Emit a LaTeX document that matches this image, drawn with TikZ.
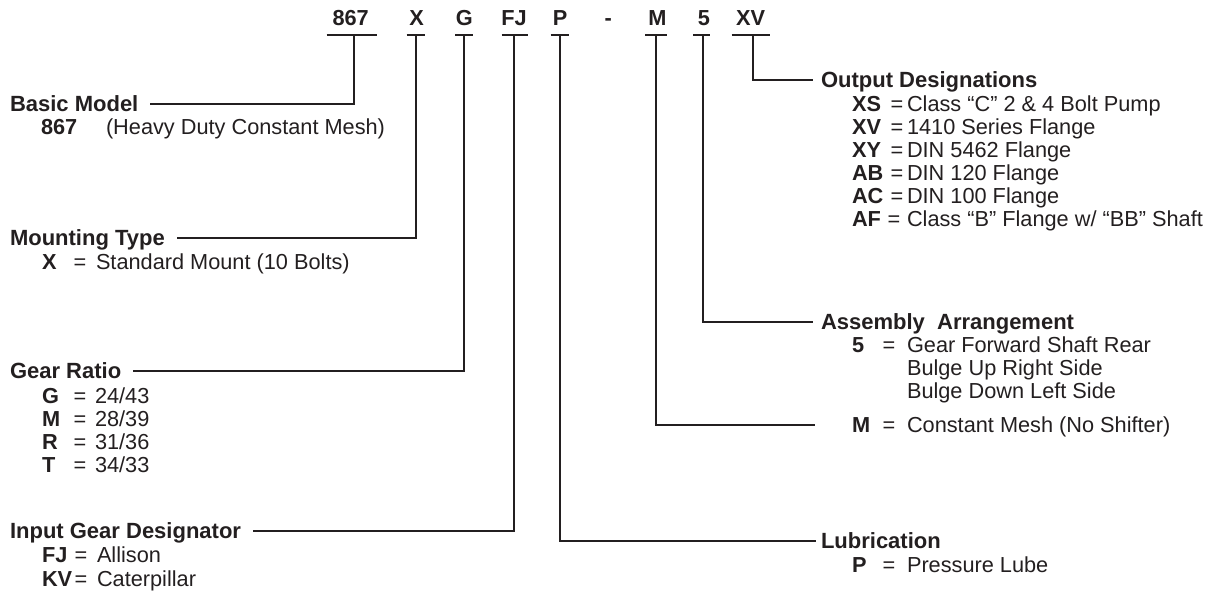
\documentclass[tikz,border=0pt]{standalone}
\usepackage{fontspec}
\setmainfont{Liberation Sans}
\definecolor{ink}{RGB}{35,31,32}
\begin{document}
\begin{tikzpicture}[x=0.75pt,y=-0.75pt,
  every node/.style={inner sep=0pt,outer sep=0pt,text=ink,font=\fontsize{16.3}{19}\selectfont},
  codetxt/.style={anchor=base,font=\fontsize{16.3}{19}\selectfont\bfseries},
  hdr/.style={anchor=base west,font=\fontsize{16.5}{19}\selectfont\bfseries},
  keytxt/.style={anchor=base west,font=\fontsize{16.3}{19}\selectfont\bfseries},
  valtxt/.style={anchor=base west},
  eqtxt/.style={anchor=base},
  conn/.style={draw=ink,line width=1.45pt},
  uline/.style={draw=ink,line width=1.45pt}]
\useasboundingbox (0,0) rectangle (1217,596);

% ---- top code ----
\node[codetxt] (c867) at (350.7,26) {867};
\node[codetxt] (cX) at (416.7,26) {X};
\node[codetxt] (cG) at (464.3,26) {G};
\node[codetxt] (cFJ) at (514,26) {FJ};
\node[codetxt] (cP) at (560,26) {P};
\node[codetxt] (cdash) at (608.3,26) {-};
\node[codetxt] (cM) at (657.3,26) {M};
\node[codetxt] (c5) at (704,26) {5};
\node[codetxt] (cXV) at (750.7,26) {XV};

\draw[uline] (326.7,35) -- (376.7,35);
\draw[uline] (406.7,35) -- (425,35);
\draw[uline] (455,35) -- (473.3,35);
\draw[uline] (501.7,35) -- (528.3,35);
\draw[uline] (550.7,35) -- (569.3,35);
\draw[uline] (645,35) -- (666.7,35);
\draw[uline] (693.3,35) -- (710,35);
\draw[uline] (731.7,35) -- (770,35);

\coordinate (t867) at (354.3,35);
\coordinate (tX) at (416.3,35);
\coordinate (tG) at (464.3,35);
\coordinate (tFJ) at (514.3,35);
\coordinate (tP) at (560,35);
\coordinate (tM) at (656,35);
\coordinate (t5) at (703,35);
\coordinate (tXV) at (753,35);

% ---- left column ----
\node[hdr] (hBasic) at (10,111) {Basic Model};
\node[keytxt] (k867) at (41,134) {867};
\node[valtxt] (v867) at (106,134) {(Heavy Duty Constant Mesh)};

\node[hdr] (hMount) at (10,245.5) {Mounting Type};
\node[keytxt] (kX) at (42,269.5) {X};
\node[eqtxt] (qX) at (80,269.5) {=};
\node[valtxt] (vX) at (96,269.5) {Standard Mount (10 Bolts)};

\node[hdr] (hGear) at (10,378.5) {Gear Ratio};
\node[keytxt] (kG) at (42,403.5) {G};
\node[eqtxt] (qG) at (80,403.5) {=};
\node[valtxt] (vG) at (95,403.5) {24/43};
\node[keytxt] (kM) at (42,426.5) {M};
\node[eqtxt] (qM) at (80,426.5) {=};
\node[valtxt] (vM) at (95,426.5) {28/39};
\node[keytxt] (kR) at (42,449.5) {R};
\node[eqtxt] (qR) at (80,449.5) {=};
\node[valtxt] (vR) at (95,449.5) {31/36};
\node[keytxt] (kT) at (42,472.5) {T};
\node[eqtxt] (qT) at (80,472.5) {=};
\node[valtxt] (vT) at (95,472.5) {34/33};

\node[hdr] (hInput) at (10,538.5) {Input Gear Designator};
\node[keytxt] (kFJ) at (42,562.5) {FJ};
\node[eqtxt] (qFJ) at (81,562.5) {=};
\node[valtxt] (vFJ) at (97,562.5) {Allison};
\node[keytxt] (kKV) at (42,586.5) {KV};
\node[eqtxt] (qKV) at (81,586.5) {=};
\node[valtxt] (vKV) at (97,586.5) {Caterpillar};

% ---- right column ----
\node[hdr] (hOut) at (821,87.5) {Output Designations};
\node[keytxt] (kXS) at (852,111.5) {XS};
\node[eqtxt] (qXS) at (897,111.5) {=};
\node[valtxt] (vXS) at (907,111.5) {Class “C” 2 \& 4 Bolt Pump};
\node[keytxt] (kXV) at (852,134.5) {XV};
\node[eqtxt] (qXV) at (897,134.5) {=};
\node[valtxt] (vXV) at (907,134.5) {1410 Series Flange};
\node[keytxt] (kXY) at (852,157.5) {XY};
\node[eqtxt] (qXY) at (897,157.5) {=};
\node[valtxt] (vXY) at (907,157.5) {DIN 5462 Flange};
\node[keytxt] (kAB) at (852,180.5) {AB};
\node[eqtxt] (qAB) at (897,180.5) {=};
\node[valtxt] (vAB) at (907,180.5) {DIN 120 Flange};
\node[keytxt] (kAC) at (852,203.5) {AC};
\node[eqtxt] (qAC) at (897,203.5) {=};
\node[valtxt] (vAC) at (907,203.5) {DIN 100 Flange};
\node[keytxt] (kAF) at (852,226.5) {AF};
\node[eqtxt] (qAF) at (894,226.5) {=};
\node[valtxt] (vAF) at (907,226.5) {Class “B” Flange w/ “BB” Shaft};

\node[hdr] (hAsm) at (821,329.5) {Assembly\ \ Arrangement};
\node[keytxt] (k5) at (852,352.5) {5};
\node[eqtxt] (q5) at (889,352.5) {=};
\node[valtxt] (v5a) at (907,352.5) {Gear Forward Shaft Rear};
\node[valtxt] (v5b) at (907,375.5) {Bulge Up Right Side};
\node[valtxt] (v5c) at (907,398.5) {Bulge Down Left Side};

\node[keytxt] (kMr) at (852,432.5) {M};
\node[eqtxt] (qMr) at (889,432.5) {=};
\node[valtxt] (vMr) at (907,432.5) {Constant Mesh (No Shifter)};

\node[hdr] (hLub) at (821,548.5) {Lubrication};
\node[keytxt] (kP) at (852,572.5) {P};
\node[eqtxt] (qP) at (889,572.5) {=};
\node[valtxt] (vP) at (907,572.5) {Pressure Lube};

% ---- connector ends ----
\coordinate (eBasic) at ([xshift=9pt,yshift=5.6pt]hBasic.base east);
\coordinate (eMount) at ([xshift=9pt,yshift=5.6pt]hMount.base east);
\coordinate (eGear) at ([xshift=9pt,yshift=5.6pt]hGear.base east);
\coordinate (eInput) at ([xshift=9pt,yshift=5.6pt]hInput.base east);
\coordinate (eOut) at ([xshift=-6pt,yshift=5.6pt]hOut.base west);
\coordinate (eAsm) at ([xshift=-6pt,yshift=5.6pt]hAsm.base west);
\coordinate (eMr) at ([xshift=-27.75pt,yshift=5.6pt]kMr.base west);
\coordinate (eLub) at ([xshift=-4pt,yshift=5.6pt]hLub.base west);

% ---- connectors ----
\draw[conn] (t867) |- (eBasic);
\draw[conn] (tX) |- (eMount);
\draw[conn] (tG) |- (eGear);
\draw[conn] (tFJ) |- (eInput);
\draw[conn] (tP) |- (eLub);
\draw[conn] (tM) |- (eMr);
\draw[conn] (t5) |- (eAsm);
\draw[conn] (tXV) |- (eOut);
\end{tikzpicture}
\end{document}
